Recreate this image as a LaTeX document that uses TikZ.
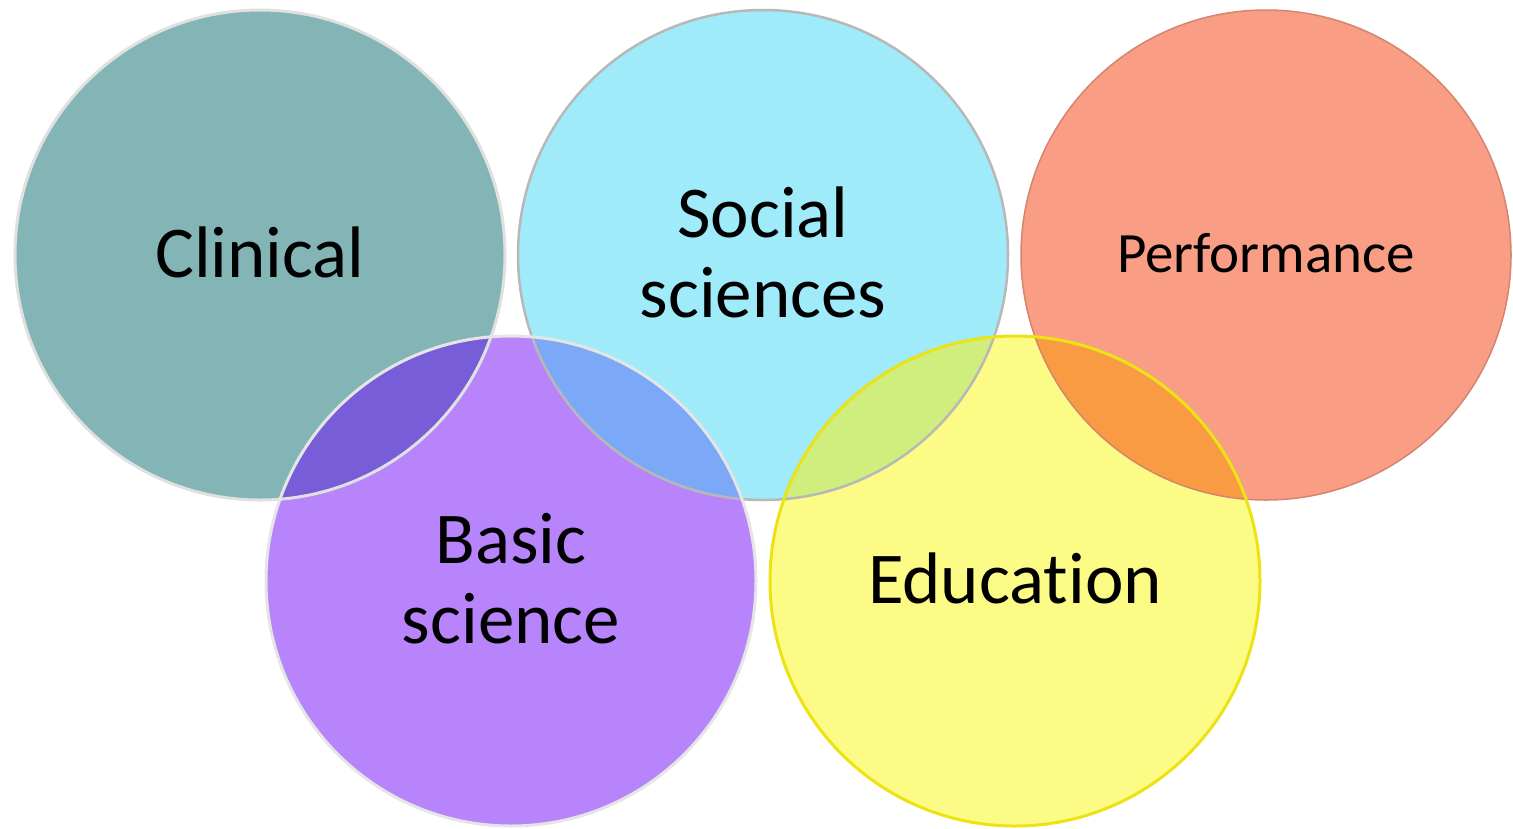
\documentclass[tikz,border=0pt]{standalone}
\usepackage{fontspec}
\setmainfont{Carlito}[Ligatures=NoCommon]
\definecolor{clin}{HTML}{84B5B6}
\definecolor{soc}{HTML}{A0EBF9}
\definecolor{perf}{HTML}{F99D84}
\definecolor{basic}{HTML}{B784FB}
\definecolor{edu}{HTML}{FBFB86}
\definecolor{cb}{HTML}{775ED8}
\definecolor{sb}{HTML}{7BA9F8}
\definecolor{se}{HTML}{CFEE7E}
\definecolor{ep}{HTML}{F89B42}
\tikzset{
  ring/.style={circle, minimum size=490pt, inner sep=0pt},
  lbl/.style={font=\fontsize{73}{81}\selectfont, align=center, text=black, inner sep=0pt},
}
\begin{document}
\begin{tikzpicture}[x=1pt,y=-1pt]
\useasboundingbox (0,0) rectangle (1513,828);
% circles (fills)
\node[ring, fill=clin] (clinical) at (260,255) {};
\node[ring, fill=soc] (social) at (763,255) {};
\node[ring, fill=perf] (performance) at (1266,255) {};
\node[ring, fill=basic] (basic) at (511,581) {};
\node[ring, fill=edu] (education) at (1015,581) {};
% overlaps
\begin{scope}
  \clip (260,255) circle (245);
  \fill[cb] (511,581) circle (245);
\end{scope}
\begin{scope}
  \clip (763,255) circle (245);
  \fill[sb] (511,581) circle (245);
\end{scope}
\begin{scope}
  \clip (763,255) circle (245);
  \fill[se] (1015,581) circle (245);
\end{scope}
\begin{scope}
  \clip (1266,255) circle (245);
  \fill[ep] (1015,581) circle (245);
\end{scope}
% outlines
\draw[line width=3pt, draw=white!88!black] (260,255) circle (245);
\draw[line width=2.5pt, draw=white!72!black] (763,255) circle (245);
\draw[line width=1.5pt, draw=perf!85!black] (1266,255) circle (245);
\draw[line width=3pt, draw=white!90!black] (511,581) circle (245);
\draw[line width=3pt, draw=yellow!92!black] (1015,581) circle (245);
% labels
\node[lbl, anchor=base] (tclin) at (260,277) {Clinical};
\node[lbl, anchor=base] (tsoc1) at (763,237) {Social};
\node[lbl, anchor=base] (tsoc2) at (763,317) {sciences};
\node[lbl, anchor=base, font=\fontsize{57}{64}\selectfont] (tperf) at (1266,272) {Performance};
\node[lbl, anchor=base] (tbas1) at (511,563) {Basic};
\node[lbl, anchor=base] (tbas2) at (511,643) {science};
\node[lbl, anchor=base] (tedu) at (1015,603) {Education};
\end{tikzpicture}
\end{document}
